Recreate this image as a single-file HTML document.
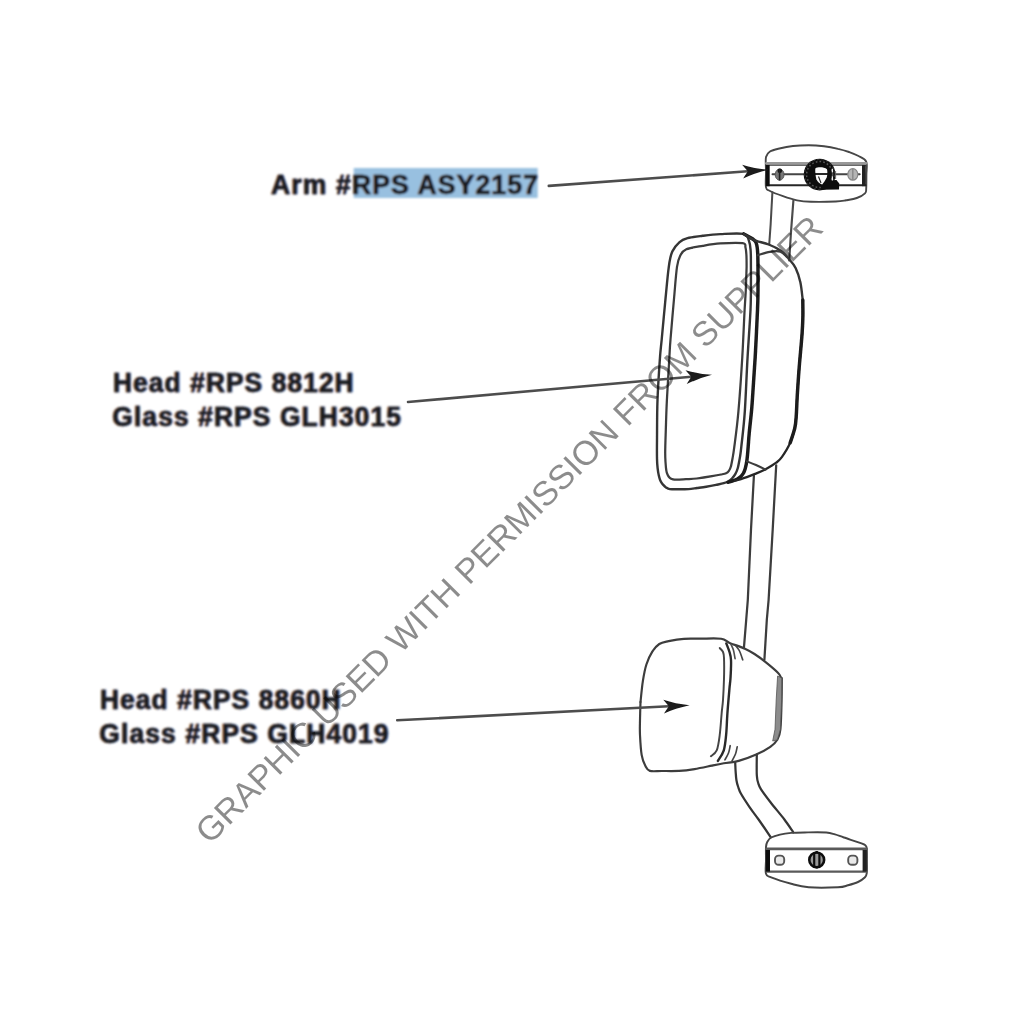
<!DOCTYPE html>
<html>
<head>
<meta charset="utf-8">
<title>Mirror Assembly Diagram</title>
<style>
html,body{margin:0;padding:0;background:#fff;}
body{width:1024px;height:1024px;overflow:hidden;position:relative;font-family:"Liberation Sans",sans-serif;}
svg{position:absolute;left:0;top:0;}
.lbl{font-family:"Liberation Sans",sans-serif;font-weight:bold;font-size:27.5px;letter-spacing:1.23px;fill:#1a1a1c;stroke:#1a1a1c;stroke-width:0.45px;}
.fl{fill:#b9722c;stroke:#b9722c;}
.fr{fill:#2c63b9;stroke:#2c63b9;}
.wm{font-family:"Liberation Sans",sans-serif;font-size:34.2px;fill:#000;fill-opacity:0.45;}
</style>
</head>
<body>
<svg width="1024" height="1024" viewBox="0 0 1024 1024">
<defs>
<filter id="soft" x="-5%" y="-5%" width="110%" height="110%"><feGaussianBlur stdDeviation="0.75"/></filter>
<filter id="softt" x="-5%" y="-20%" width="110%" height="140%"><feGaussianBlur stdDeviation="0.85"/></filter>
</defs>
<rect x="0" y="0" width="1024" height="1024" fill="#fff"/>
<g id="labels" filter="url(#softt)">
<rect x="353.7" y="168" width="184" height="30" fill="#98c0e0"/>
<text class="lbl fl" transform="translate(270.45,193.8) scale(0.9629,1)">Arm #RPS ASY2157</text>
<text class="lbl fr" transform="translate(271.55,193.8) scale(0.9629,1)">Arm #RPS ASY2157</text>
<text class="lbl" transform="translate(271.00,193.8) scale(0.9629,1)">Arm #RPS ASY2157</text>
<text class="lbl fl" transform="translate(112.45,392.2) scale(0.9524,1)">Head #RPS 8812H</text>
<text class="lbl fr" transform="translate(113.55,392.2) scale(0.9524,1)">Head #RPS 8812H</text>
<text class="lbl" transform="translate(113.00,392.2) scale(0.9524,1)">Head #RPS 8812H</text>
<text class="lbl fl" transform="translate(111.75,425.9) scale(0.9555,1)">Glass #RPS GLH3015</text>
<text class="lbl fr" transform="translate(112.85,425.9) scale(0.9555,1)">Glass #RPS GLH3015</text>
<text class="lbl" transform="translate(112.30,425.9) scale(0.9555,1)">Glass #RPS GLH3015</text>
<text class="lbl fl" transform="translate(99.45,709.0) scale(0.9524,1)">Head #RPS 8860H</text>
<text class="lbl fr" transform="translate(100.55,709.0) scale(0.9524,1)">Head #RPS 8860H</text>
<text class="lbl" transform="translate(100.00,709.0) scale(0.9524,1)">Head #RPS 8860H</text>
<text class="lbl fl" transform="translate(98.75,742.5) scale(0.9577,1)">Glass #RPS GLH4019</text>
<text class="lbl fr" transform="translate(99.85,742.5) scale(0.9577,1)">Glass #RPS GLH4019</text>
<text class="lbl" transform="translate(99.30,742.5) scale(0.9577,1)">Glass #RPS GLH4019</text>
</g>
<g id="drawing" filter="url(#soft)">
<path d="M766.0 187.4 C765.3 184.2 766.0 177.1 766.0 172.0 C766.0 166.9 765.3 160.4 766.0 157.0 C766.7 153.6 767.8 152.9 770.0 151.5 C772.2 150.1 775.6 149.4 779.4 148.5 C783.2 147.6 788.1 146.6 793.0 146.0 C797.9 145.4 803.5 145.2 808.7 145.2 C813.9 145.2 819.1 145.6 824.0 146.2 C828.9 146.8 833.8 147.8 838.0 148.8 C842.2 149.7 845.7 150.8 849.0 152.0 C852.3 153.2 855.1 154.2 858.0 155.8 C860.9 157.4 864.8 158.4 866.2 161.6 C867.6 164.8 866.4 170.5 866.4 175.0 C866.4 179.5 866.4 185.5 866.2 188.6 C866.0 191.7 866.6 191.7 865.0 193.3 C863.4 194.9 860.0 196.8 856.8 198.0 C853.6 199.2 849.5 199.7 846.0 200.3 C842.5 200.9 841.5 201.3 835.7 201.5 C829.9 201.7 817.5 201.9 811.0 201.7 C804.5 201.5 801.7 201.2 797.0 200.3 C792.3 199.4 787.5 197.8 783.0 196.2 C778.5 194.6 772.8 192.5 770.0 191.0 C767.2 189.5 766.7 190.6 766.0 187.4Z" fill="none" stroke="#464646" stroke-width="1.88" stroke-linecap="round" stroke-linejoin="round" />
<path d="M766.5 163.3 L865.8 163.3" fill="none" stroke="#999" stroke-width="2.85" stroke-linecap="round" stroke-linejoin="round" />
<path d="M767.0 165.2 L865.5 165.2" fill="none" stroke="#6a6a6a" stroke-width="1.5" stroke-linecap="round" stroke-linejoin="round" />
<path d="M767.0 185.3 L865.5 185.3" fill="none" stroke="#262626" stroke-width="2.1" stroke-linecap="round" stroke-linejoin="round" />
<rect x="765.8" y="165" width="3.9" height="21.2" fill="#111"/>
<rect x="862" y="165" width="3.8" height="21.2" fill="#222"/>
<path d="M772.5 174.3 L859.7 174.3" fill="none" stroke="#444" stroke-width="1.95" stroke-linecap="round" stroke-linejoin="round" />
<ellipse cx="779.6" cy="174.6" rx="4.4" ry="5.6" fill="#777" stroke="#555" stroke-width="1"/>
<circle cx="779.8" cy="170.8" r="2.3" fill="#111"/>
<path d="M779.6 169 L779.6 180.5" stroke="#222" stroke-width="1.6" fill="none"/>
<ellipse cx="852.8" cy="174.4" rx="5" ry="5.8" fill="#b5b5b5" stroke="#888" stroke-width="1.2"/>
<path d="M852.8 169 L852.8 180" stroke="#888" stroke-width="1.4" fill="none"/>
<circle cx="819.6" cy="174.6" r="15.9" fill="#0e0e0e"/>
<circle cx="819.6" cy="174.5" r="13" fill="none" stroke="#5a5a5a" stroke-width="1.5" stroke-dasharray="1.6 2.2"/>
<circle cx="819.6" cy="174.5" r="15" fill="none" stroke="#3a3a3a" stroke-width="0.9" stroke-dasharray="2.5 2"/>
<path d="M823.5 180.4 L836.5 180 L839.2 183.5 L839 189.6 L821.5 189.8Z" fill="#0e0e0e"/>
<path d="M815.3 168.4 C818 166.8 824 167 827 169.2 C827.6 172 827.4 175.5 826.7 177.5 C825.4 180 824 182.5 822.2 184.6 C819.6 183.6 817.4 181.4 816.4 179.2 C815.6 176 815 172 815.3 168.4Z" fill="#fafafa"/>
<path d="M813 174 L829 174" stroke="#0e0e0e" stroke-width="1.8" fill="none"/>
<path d="M818.5 176.5 L821 183" stroke="#222" stroke-width="1.1" fill="none"/>
<path d="M832.4 168.8 L832.4 172.6 M832.4 176.2 L832.4 180.6" stroke="#eee" stroke-width="1.3" fill="none"/>
<path d="M835.6 171 L835.6 179" stroke="#666" stroke-width="0.9" fill="none"/>
<path d="M772.4 192.3 L770.6 225.0 L769.2 244.6" fill="none" stroke="#4c4c4c" stroke-width="2.03" stroke-linecap="round" stroke-linejoin="round" />
<path d="M793.4 200.5 L791.0 232.0 L789.2 260.5" fill="none" stroke="#4c4c4c" stroke-width="2.17" stroke-linecap="round" stroke-linejoin="round" />
<path d="M753.9 475.8 L751.0 529.5 L747.8 600.0 L746.2 620.0 L743.9 648.1" fill="none" stroke="#3c3c3c" stroke-width="2.25" stroke-linecap="round" stroke-linejoin="round" />
<path d="M776.2 465.3 L772.7 529.5 L768.6 600.0 L766.8 620.0 L764.4 659.8" fill="none" stroke="#3c3c3c" stroke-width="2.25" stroke-linecap="round" stroke-linejoin="round" />
<path d="M735.2 762.5 C735.3 763.9 735.4 768.1 735.6 771.0 C735.8 773.9 736.0 777.3 736.4 780.0 C736.8 782.7 737.4 784.7 738.2 787.0 C739.0 789.3 739.2 790.5 741.0 793.8 C742.8 797.0 746.3 802.3 749.2 806.6 C752.1 810.9 755.0 814.4 758.6 819.5 C762.2 824.6 768.8 834.3 770.8 837.3" fill="none" stroke="#363636" stroke-width="2.25" stroke-linecap="round" stroke-linejoin="round" />
<path d="M756.8 754.5 C756.8 756.2 756.7 761.4 756.7 765.0 C756.7 768.6 756.6 773.2 756.9 776.2 C757.1 779.2 757.5 780.9 758.2 783.0 C758.9 785.1 758.9 785.9 760.9 789.1 C762.9 792.3 766.4 796.9 770.3 802.0 C774.2 807.1 780.6 814.5 784.4 819.5 C788.2 824.5 791.8 830.2 793.3 832.3" fill="none" stroke="#363636" stroke-width="2.25" stroke-linecap="round" stroke-linejoin="round" />
<path d="M750.9 262.0 C750.9 260.0 750.9 253.5 750.6 250.0 C750.3 246.5 750.1 243.7 749.0 241.0 C747.9 238.3 748.5 235.1 743.8 233.9 C739.0 232.8 727.1 233.8 720.3 234.1 C713.5 234.4 708.2 235.1 702.7 235.8 C697.2 236.5 691.4 237.1 687.5 238.2 C683.6 239.3 681.8 240.1 679.3 242.3 C676.8 244.5 674.1 247.5 672.3 251.6 C670.5 255.7 669.9 258.5 668.8 266.9 C667.6 275.3 666.4 289.9 665.2 302.0 C664.0 314.1 662.6 330.1 661.7 339.5 C660.8 348.9 660.6 348.5 659.9 358.6 C659.2 368.7 658.0 386.4 657.5 400.0 C657.0 413.6 657.1 430.2 657.0 440.0 C656.9 449.8 656.9 453.9 657.0 458.6 C657.1 463.3 657.3 465.3 657.6 468.0 C657.9 470.7 658.2 472.9 658.7 475.0 C659.2 477.1 659.6 478.9 660.3 480.5 C661.0 482.1 661.8 483.2 662.8 484.4 C663.8 485.5 664.8 486.6 666.0 487.4 C667.2 488.2 667.6 488.8 669.8 489.1 C672.0 489.4 675.9 489.3 679.0 489.3 C682.1 489.3 685.6 489.3 688.6 489.1 C691.6 488.9 694.1 488.4 697.0 488.0 C699.9 487.6 703.0 487.2 706.2 486.7 C709.4 486.2 713.1 485.5 716.0 484.9 C718.9 484.3 721.7 483.8 723.8 483.2 C725.8 482.6 727.1 482.1 728.5 481.3 C729.9 480.5 730.9 479.8 732.0 478.5 C733.1 477.2 734.4 475.6 735.4 473.8 C736.4 472.1 737.1 470.6 737.8 468.0 C738.5 465.4 739.2 461.5 739.8 458.0 C740.4 454.5 740.5 454.6 741.3 446.9 C742.1 439.2 743.8 426.7 744.8 411.7 C745.8 396.7 746.6 373.8 747.6 356.9 C748.6 339.9 750.0 321.1 750.5 310.0 C751.0 298.9 750.8 298.0 750.9 290.0 C751.0 282.0 750.9 266.7 750.9 262.0" fill="none" stroke="#363636" stroke-width="2.4" stroke-linecap="round" stroke-linejoin="round" />
<path d="M746.6 266.9 C746.6 264.9 746.6 258.2 746.4 255.0 C746.2 251.8 746.1 249.5 745.5 247.5 C744.9 245.5 746.8 243.9 742.6 243.2 C738.4 242.5 726.9 243.0 720.3 243.4 C713.6 243.8 708.4 244.8 702.7 245.8 C697.0 246.8 690.0 247.7 686.3 249.3 C682.6 250.9 682.0 252.3 680.5 255.2 C679.0 258.1 678.1 259.4 677.0 266.9 C675.9 274.4 675.0 287.9 673.9 300.0 C672.8 312.1 671.3 329.7 670.5 339.5 C669.7 349.3 669.9 348.5 669.3 358.6 C668.7 368.7 667.5 388.1 666.9 400.0 C666.3 411.9 666.1 421.2 665.8 430.0 C665.5 438.8 665.2 447.4 665.2 452.7 C665.2 458.0 665.3 459.1 665.5 462.0 C665.7 464.9 665.9 468.2 666.3 470.3 C666.6 472.4 667.0 473.5 667.6 474.8 C668.2 476.1 668.9 477.1 669.8 477.9 C670.7 478.7 671.8 479.1 673.0 479.4 C674.2 479.7 674.7 479.7 676.9 479.7 C679.1 479.7 682.7 479.4 686.0 479.2 C689.3 479.0 692.5 479.0 696.8 478.5 C701.1 478.0 708.0 476.9 712.0 476.2 C716.0 475.5 718.6 475.0 721.0 474.5 C723.4 474.0 724.8 473.8 726.1 473.2 C727.4 472.6 728.1 471.9 728.9 470.8 C729.7 469.7 730.2 468.9 730.8 466.8 C731.4 464.7 732.0 461.3 732.6 458.0 C733.2 454.7 733.3 454.6 734.3 446.9 C735.3 439.2 737.1 426.7 738.4 411.7 C739.7 396.7 741.3 373.8 742.3 356.9 C743.3 339.9 744.0 321.1 744.6 310.0 C745.2 298.9 745.5 297.2 745.8 290.0 C746.1 282.8 746.5 270.8 746.6 266.9" fill="none" stroke="#3c3c3c" stroke-width="2.25" stroke-linecap="round" stroke-linejoin="round" />
<path d="M743.8 233.9 C745.1 234.7 749.9 237.0 752.0 238.5 C754.1 240.0 755.2 240.2 756.2 243.0 C757.2 245.8 757.5 247.2 757.8 255.0 C758.1 262.8 758.0 280.8 758.0 290.0 C758.0 299.2 758.0 298.9 757.5 310.0 C757.0 321.1 756.0 343.2 755.2 356.9 C754.4 370.6 753.5 383.1 752.9 392.0 C752.3 400.9 752.2 403.1 751.6 410.0 C751.0 416.9 750.0 425.0 749.2 433.4 C748.4 441.8 747.9 453.8 746.9 460.4 C745.9 467.0 745.0 470.2 743.4 473.3 C741.8 476.4 740.1 477.6 737.5 479.1 C734.9 480.6 729.6 481.8 728.0 482.3" fill="none" stroke="#1c1c1c" stroke-width="3.45" stroke-linecap="round" stroke-linejoin="round" />
<path d="M743.8 233.9 C745.4 234.9 749.2 238.0 753.4 239.8 C757.6 241.6 764.2 242.7 768.7 244.5 C773.2 246.3 777.1 248.1 780.4 250.4 C783.7 252.8 786.1 255.7 788.6 258.6 C791.1 261.5 793.7 264.1 795.6 268.0 C797.5 271.9 799.1 276.7 800.3 282.0 C801.5 287.3 802.3 296.7 802.7 299.6" fill="none" stroke="#363636" stroke-width="2.4" stroke-linecap="round" stroke-linejoin="round" />
<path d="M802.8 300.0 C802.8 302.7 803.0 310.4 802.9 316.0 C802.8 321.6 802.7 324.6 802.1 333.4 C801.5 342.2 799.9 358.3 799.1 368.6 C798.3 378.9 797.8 387.3 797.3 395.0 C796.8 402.7 796.7 409.6 796.3 415.0 C795.9 420.4 795.9 423.0 794.9 427.6 C793.9 432.2 792.4 437.9 790.2 442.8 C788.1 447.7 784.3 453.6 782.0 456.9 C779.7 460.2 778.9 460.6 776.2 462.7 C773.5 464.8 769.1 467.3 765.6 469.2 C762.1 471.1 759.2 472.2 755.1 473.9 C751.0 475.5 744.4 478.0 741.0 479.1 C737.6 480.2 736.0 480.4 735.0 480.6" fill="none" stroke="#262626" stroke-width="2.25" stroke-linecap="round" stroke-linejoin="round" />
<path d="M802.8 300.0 C802.8 302.7 803.0 310.4 802.9 316.0 C802.8 321.6 802.7 324.6 802.1 333.4 C801.5 342.2 799.9 358.3 799.1 368.6 C798.3 378.9 797.8 387.3 797.3 395.0 C796.8 402.7 796.7 409.6 796.3 415.0 C795.9 420.4 795.9 423.0 794.9 427.6 C793.9 432.2 791.0 440.3 790.2 442.8" fill="none" stroke="#1c1c1c" stroke-width="3.45" stroke-linecap="round" stroke-linejoin="round" />
<path d="M758.1 255.1 C760.0 254.6 766.1 252.4 769.8 251.8 C773.5 251.2 777.5 250.8 780.4 251.6 C783.3 252.4 785.9 255.9 787.0 256.8" fill="none" stroke="#3c3c3c" stroke-width="2.25" stroke-linecap="round" stroke-linejoin="round" />
<path d="M746.9 461.4 C748.4 462.0 752.9 463.6 756.0 465.0 C759.1 466.4 764.0 468.8 765.6 469.6" fill="none" stroke="#3c3c3c" stroke-width="2.1" stroke-linecap="round" stroke-linejoin="round" />
<path d="M640.5 702.0 C640.9 698.5 641.9 687.1 642.9 680.9 C643.9 674.6 644.8 669.4 646.4 664.5 C648.0 659.6 650.1 655.0 652.3 651.6 C654.4 648.2 656.6 645.8 659.3 644.0 C662.0 642.2 664.6 642.0 668.7 641.1 C672.8 640.2 678.7 639.1 683.9 638.8 C689.1 638.4 693.8 638.7 700.0 638.7 C706.2 638.7 716.3 638.0 721.2 638.8 C726.1 639.5 725.7 641.3 729.6 642.9 C733.5 644.5 740.2 646.6 744.4 648.5 C748.5 650.4 751.1 651.8 754.5 654.0 C757.9 656.2 761.1 658.5 765.0 661.6 C768.9 664.7 775.2 670.0 777.9 672.7 C780.6 675.4 780.5 676.8 781.0 677.6" fill="none" stroke="#3c3c3c" stroke-width="2.17" stroke-linecap="round" stroke-linejoin="round" />
<path d="M640.5 702.0 C640.4 705.0 640.1 714.5 640.0 720.0 C639.9 725.5 639.7 729.4 640.0 735.2 C640.3 741.1 640.8 750.0 641.7 755.1 C642.6 760.2 643.8 763.0 645.2 765.6 C646.6 768.2 647.1 770.0 649.9 770.9 C652.7 771.8 657.1 771.0 662.0 771.0 C666.9 771.0 673.8 771.2 679.2 770.9 C684.6 770.6 689.0 770.0 694.5 769.1 C700.0 768.2 707.1 766.6 712.0 765.6 C716.9 764.6 719.3 764.1 723.8 763.3 C728.2 762.5 733.3 762.4 738.7 760.9 C744.1 759.4 751.0 756.8 756.2 754.5 C761.5 752.2 766.8 749.4 770.3 746.9 C773.8 744.4 775.6 742.7 777.3 739.8 C779.0 736.9 779.7 735.9 780.4 729.3 C781.1 722.7 781.4 708.5 781.6 700.0 C781.8 691.5 781.8 681.7 781.8 678.0" fill="none" stroke="#3c3c3c" stroke-width="2.17" stroke-linecap="round" stroke-linejoin="round" />
<path d="M777.6 676 L781.8 678 L781.6 700 L780.4 729.3 L777.3 739.8 L772.7 741 L775 729.3 L776.2 700Z" fill="#8c8c8c" stroke="#555" stroke-width="0.8"/>
<path d="M719.8 648.1 C720.3 648.8 722.3 650.4 723.0 652.0 C723.7 653.6 723.8 653.6 724.0 658.0 C724.2 662.4 724.2 671.6 724.0 678.6 C723.8 685.6 723.4 694.1 723.0 700.0 C722.6 705.9 722.1 707.9 721.6 713.8 C721.1 719.6 720.5 729.1 719.7 735.2 C718.9 741.3 718.2 746.9 716.7 750.4 C715.2 753.9 711.9 755.3 710.9 756.2" fill="none" stroke="#444" stroke-width="1.95" stroke-linecap="round" stroke-linejoin="round" />
<path d="M726.3 643.4 C726.8 644.8 728.7 649.2 729.5 652.0 C730.3 654.8 730.8 655.7 731.0 660.0 C731.2 664.3 730.8 673.0 730.5 678.0 C730.2 683.0 729.8 684.1 729.3 690.3 C728.8 696.5 727.8 707.5 727.3 715.0 C726.8 722.5 726.7 729.3 726.1 735.2 C725.5 741.1 725.1 746.1 723.8 750.4 C722.4 754.7 718.9 759.1 717.9 760.9" fill="none" stroke="#2a2a2a" stroke-width="2.4" stroke-linecap="round" stroke-linejoin="round" />
<path d="M731.0 644.5 C731.4 645.4 732.7 647.6 733.4 650.0 C734.1 652.4 734.8 657.2 735.1 658.7" fill="none" stroke="#505050" stroke-width="1.65" stroke-linecap="round" stroke-linejoin="round" />
<path d="M736.0 646.0 C736.6 646.8 738.4 648.7 739.5 651.0 C740.6 653.3 742.2 658.3 742.7 659.8" fill="none" stroke="#444" stroke-width="1.65" stroke-linecap="round" stroke-linejoin="round" />
<path d="M730.2 745.7 C729.9 746.9 729.4 750.6 728.5 753.0 C727.6 755.4 725.5 758.7 724.9 759.8" fill="none" stroke="#444" stroke-width="1.65" stroke-linecap="round" stroke-linejoin="round" />
<path d="M737.2 746.9 C736.9 748.1 736.4 751.7 735.5 754.0 C734.6 756.3 732.6 759.8 732.0 760.9" fill="none" stroke="#444" stroke-width="1.65" stroke-linecap="round" stroke-linejoin="round" />
<path d="M766.0 873.8 C765.1 870.9 766.0 864.5 766.0 860.0 C766.0 855.5 765.8 850.0 766.0 846.9 C766.2 843.8 766.6 843.1 767.5 841.5 C768.4 839.9 769.1 838.6 771.2 837.5 C773.3 836.4 776.7 835.4 780.0 834.6 C783.3 833.8 786.5 833.3 791.2 832.9 C795.9 832.5 802.1 832.5 808.0 832.4 C813.9 832.3 821.8 832.2 826.3 832.5 C830.8 832.8 832.1 833.6 835.0 834.4 C837.9 835.2 839.5 836.0 843.9 837.5 C848.3 839.0 857.9 842.1 861.5 843.4 C865.1 844.7 864.6 844.6 865.5 845.5 C866.4 846.4 866.5 846.1 866.8 848.5 C867.0 850.9 866.9 856.0 866.9 860.0 C866.9 864.0 867.1 869.8 866.8 872.7 C866.4 875.6 866.5 875.8 865.0 877.3 C863.5 878.8 860.8 880.7 858.0 882.0 C855.2 883.3 851.3 884.4 848.0 885.3 C844.7 886.2 844.5 887.0 838.0 887.3 C831.5 887.6 816.5 887.9 808.7 887.3 C800.9 886.7 797.5 885.5 791.2 883.8 C785.0 882.1 775.4 879.0 771.2 877.3 C767.0 875.6 766.9 876.7 766.0 873.8Z" fill="none" stroke="#454545" stroke-width="1.95" stroke-linecap="round" stroke-linejoin="round" />
<path d="M766.5 848.8 L866.3 848.8" fill="none" stroke="#5a5a5a" stroke-width="2.7" stroke-linecap="round" stroke-linejoin="round" />
<path d="M767.0 871.6 L866.0 871.6" fill="none" stroke="#5a5a5a" stroke-width="2.25" stroke-linecap="round" stroke-linejoin="round" />
<rect x="765.8" y="850" width="4.2" height="21.6" fill="#111"/>
<rect x="862.6" y="850" width="4.1" height="21.6" fill="#222"/>
<rect x="775" y="855.6" width="9.2" height="9.2" rx="3.6" fill="#e9e9e9" stroke="#555" stroke-width="1.9"/>
<rect x="848.2" y="855.6" width="9.2" height="9.2" rx="3.6" fill="#e9e9e9" stroke="#555" stroke-width="1.9"/>
<circle cx="816.7" cy="859.9" r="7.4" fill="#999" stroke="#111" stroke-width="2.6"/>
<path d="M814.2 853.5 L814.2 866.5 M819.4 853.5 L819.4 866.5" stroke="#111" stroke-width="2.2" fill="none"/>
<path d="M816.7 851 L816.7 853.5 M816.7 866 L816.7 868.6" stroke="#111" stroke-width="2.4" fill="none"/>
<path d="M548.8 185.9 L747.8 171.3" stroke="#4e4e4e" stroke-width="2.6" fill="none" stroke-linecap="round"/><path d="M768.5 169.8 Q754.4 173.1 743.1 178.6 L747.8 171.3 L742.1 164.8 Q754.1 168.6 768.5 169.8Z" fill="#1a1a1a"/>
<path d="M408.0 402.0 L691.3 376.7" stroke="#4e4e4e" stroke-width="2.6" fill="none" stroke-linecap="round"/><path d="M712.0 374.8 Q698.0 378.3 686.7 384.0 L691.3 376.7 L685.5 370.2 Q697.6 373.8 712.0 374.8Z" fill="#1a1a1a"/>
<path d="M397.2 720.3 L668.8 706.3" stroke="#4e4e4e" stroke-width="2.6" fill="none" stroke-linecap="round"/><path d="M689.6 705.2 Q675.4 708.2 664.0 713.4 L668.8 706.3 L663.3 699.7 Q675.2 703.7 689.6 705.2Z" fill="#1a1a1a"/>
</g>
<g id="wm" filter="url(#soft)">
<text class="wm" transform="translate(209.7,845.2) rotate(-45)">GRAPHIC USED WITH PERMISSION FROM SUPPLIER</text>
</g>
</svg>
</body>
</html>
